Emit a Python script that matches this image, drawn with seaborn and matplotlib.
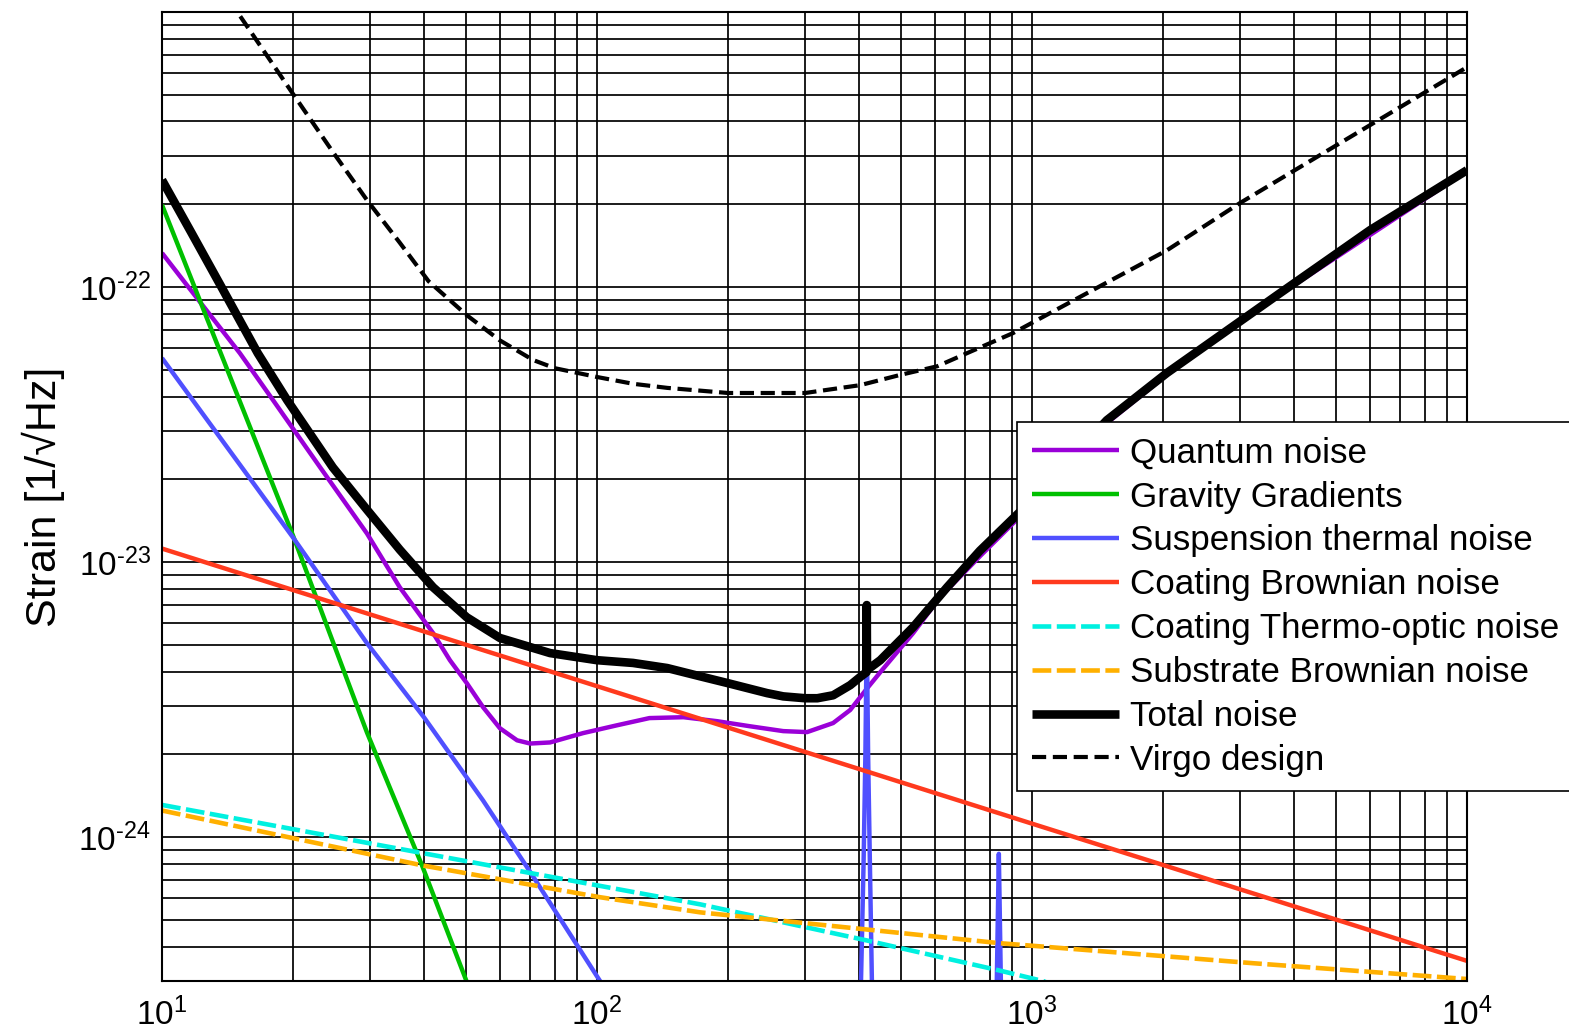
import math
import matplotlib
matplotlib.use("Agg")
import matplotlib.pyplot as plt
import seaborn as sns
from matplotlib.ticker import FixedLocator, LogLocator, NullFormatter, FuncFormatter

# ---------------- noise budget data (frequency in Hz, strain in 1/sqrt(Hz)) ----------------
quantum_f = [10, 11.5, 15.1, 18.0, 23.1, 29.6, 35.2, 42, 45.9, 50.2, 54.7, 59.8, 65.5, 70.2,
             78, 92.9, 111, 132, 158, 189, 225, 268, 304, 349, 382, 418, 448, 533, 615, 759,
             1000, 1486, 2042, 3715, 10000]
quantum_h = [1.33e-22, 1.0e-22, 5.75e-23, 3.88e-23, 2.21e-23, 1.27e-23, 8.1e-24, 5.52e-24,
             4.4e-24, 3.63e-24, 2.97e-24, 2.49e-24, 2.25e-24, 2.19e-24, 2.21e-24, 2.39e-24,
             2.55e-24, 2.71e-24, 2.73e-24, 2.64e-24, 2.53e-24, 2.43e-24, 2.41e-24, 2.6e-24,
             2.9e-24, 3.48e-24, 3.98e-24, 5.52e-24, 7.46e-24, 1.05e-23, 1.62e-23, 3.2e-23,
             4.8e-23, 9.4e-23, 2.64e-22]

gravity_f = [10, 20, 29.6, 39.6, 50.1, 60]
gravity_h = [1.99e-22, 1.25e-23, 2.4e-24, 7.9e-25, 3.0e-25, 1.45e-25]

suspension_f = [10, 20, 29.6, 40, 54.7, 70.5, 101.6, 300, 400, 404.5, 410, 414, 416, 417,
                418, 420, 424, 428.5, 434, 500, 820, 830, 839, 848, 856, 10000]
suspension_h = [5.52e-23, 1.23e-23, 5.07e-24, 2.73e-24, 1.36e-24, 7.4e-25, 3.0e-25, 2e-26,
                1.5e-25, 3.0e-25, 8e-25, 2e-24, 4e-24, 6.5e-24, 4e-24, 2e-24, 8e-25, 3.0e-25,
                1.5e-25, 2e-26, 5e-26, 3.0e-25, 8.7e-25, 3.0e-25, 5e-26, 1e-27]

coating_brownian_f = [10, 100, 1000, 10000]
coating_brownian_h = [1.12e-23, 3.54e-24, 1.12e-24, 3.55e-25]

coating_to_f = [10, 70.5, 172.6, 415, 839, 1059, 1150]
coating_to_h = [1.31e-24, 7.4e-25, 5.7e-25, 4.22e-25, 3.28e-25, 3.0e-25, 2.85e-25]

substrate_f = [10, 39.6, 101.6, 172.6, 839, 3236, 10000]
substrate_h = [1.25e-24, 7.9e-25, 6.05e-25, 5.33e-25, 4.12e-25, 3.48e-25, 3.05e-25]

total_f = [10, 11.7, 13.7, 16.6, 19.4, 24.7, 29.6, 35.2, 42, 50.2, 59.8, 78, 100, 121, 145,
           172, 200, 246, 268, 301, 321, 349, 382, 405, 416.5, 417, 417.5, 448, 533, 638,
           759, 1000, 1486, 2042, 3715, 5985, 10000]
total_h = [2.45e-22, 1.57e-22, 1.0e-22, 5.75e-23, 3.88e-23, 2.21e-23, 1.55e-23, 1.11e-23,
           8.1e-24, 6.3e-24, 5.3e-24, 4.67e-24, 4.4e-24, 4.3e-24, 4.12e-24, 3.85e-24,
           3.63e-24, 3.34e-24, 3.25e-24, 3.2e-24, 3.2e-24, 3.28e-24, 3.57e-24, 3.85e-24,
           3.98e-24, 6.98e-24, 4.05e-24, 4.4e-24, 5.8e-24, 8.1e-24, 1.1e-23, 1.68e-23,
           3.28e-23, 4.87e-23, 9.5e-23, 1.61e-22, 2.66e-22]

virgo_f = [13, 14.9, 20, 24.7, 29.6, 35.2, 41, 50.2, 59.8, 71.3, 80, 100, 121, 145, 200,
           301, 403, 497, 605, 709, 904, 1288, 2042, 3006, 5890, 10000]
virgo_h = [1.38e-21, 1.0e-21, 5.04e-22, 3.1e-22, 2.07e-22, 1.45e-22, 1.05e-22, 7.9e-23,
           6.4e-23, 5.43e-23, 5.07e-23, 4.71e-23, 4.45e-23, 4.3e-23, 4.12e-23, 4.12e-23,
           4.4e-23, 4.79e-23, 5.15e-23, 5.75e-23, 6.8e-23, 9.2e-23, 1.36e-22, 2.02e-22,
           3.82e-22, 6.3e-22]

labels = ["Quantum noise", "Gravity Gradients", "Suspension thermal noise",
          "Coating Brownian noise", "Coating Thermo-optic noise",
          "Substrate Brownian noise", "Total noise", "Virgo design"]

# ---------------- styling ----------------
sns.set_theme(style="white")
plt.rcParams["font.family"] = ["Liberation Sans", "DejaVu Sans"]
plt.rcParams["mathtext.fontset"] = "custom"
plt.rcParams["mathtext.rm"] = "Liberation Sans"
plt.rcParams["mathtext.default"] = "regular"

fig = plt.figure(figsize=(15.69, 10.34), dpi=100)
ax = fig.add_axes([162 / 1569, 1 - 981 / 1034, 1305 / 1569, 969 / 1034])
ax.set_xscale("log")
ax.set_yscale("log")

series = [
    (quantum_f, quantum_h, "#9A00D8", 3.2, None),
    (gravity_f, gravity_h, "#00C000", 3.2, None),
    (suspension_f, suspension_h, "#5050FF", 3.2, None),
    (coating_brownian_f, coating_brownian_h, "#FF3A1E", 3.2, None),
    (coating_to_f, coating_to_h, "#00F0E0", 3.3, (4.1, 1.2)),
    (substrate_f, substrate_h, "#FFB000", 3.3, (4.1, 1.2)),
    (total_f, total_h, "#000000", 6.2, None),
    (virgo_f, virgo_h, "#000000", 3.0, (3.4, 1.6)),
]

handles = []
for (f, h, color, lw, dash), label in zip(series, labels):
    sns.lineplot(x=f, y=h, ax=ax, color=color, linewidth=lw, estimator=None,
                 sort=False, legend=False)
    line = ax.lines[-1]
    line.set_label(label)
    line.set_solid_capstyle("butt")
    line.set_solid_joinstyle("round")
    if dash is not None:
        line.set_dashes(dash)
        line.set_dash_capstyle("butt")
    handles.append(line)

ax.set_xlim(10, 1e4)
ax.set_ylim(3e-25, 1e-21)

# grid: every decade and sub-decade line in solid black
ax.xaxis.set_major_locator(FixedLocator([10, 100, 1000, 10000]))
ax.xaxis.set_minor_locator(LogLocator(base=10, subs=range(2, 10), numticks=50))
ax.yaxis.set_major_locator(FixedLocator([1e-24, 1e-23, 1e-22]))
ax.yaxis.set_minor_locator(LogLocator(base=10, subs=range(1, 10), numticks=50))
ax.xaxis.set_minor_formatter(NullFormatter())
ax.yaxis.set_minor_formatter(NullFormatter())


def decade_label(v, pos):
    e = int(round(math.log10(v)))
    if e < 0:
        return "$10^{\u2010%d}$" % (-e)
    return "$10^{%d}$" % e


ax.xaxis.set_major_formatter(FuncFormatter(decade_label))
ax.yaxis.set_major_formatter(FuncFormatter(decade_label))

ax.grid(True, which="both", color="black", linewidth=1.25, linestyle="-")
ax.set_axisbelow(True)
ax.tick_params(which="both", length=0)
ax.tick_params(axis="x", which="major", pad=12, labelsize=24, colors="black")
ax.tick_params(axis="y", which="major", pad=8, labelsize=24, colors="black")

for sp in ax.spines.values():
    sp.set_visible(True)
    sp.set_color("black")
    sp.set_linewidth(1.5)

ax.set_xlabel("")
ax.set_ylabel("Strain [1/\u221aHz]", fontsize=31, color="black")
ax.yaxis.set_label_coords((65 - 162) / 1305, 0.5)

leg = ax.legend(handles=handles, labels=labels, loc="upper left",
                bbox_to_anchor=((1017 - 162) / 1305, (981 - 422) / 969),
                borderaxespad=0, fontsize=25.2, frameon=True, fancybox=False,
                framealpha=1, edgecolor="black", handlelength=2.5,
                handletextpad=0.3, borderpad=0.42, labelspacing=0.31)
leg.get_frame().set_linewidth(1.2)
for t in leg.get_texts():
    t.set_color("black")

fig.savefig("out.png", dpi=100)
